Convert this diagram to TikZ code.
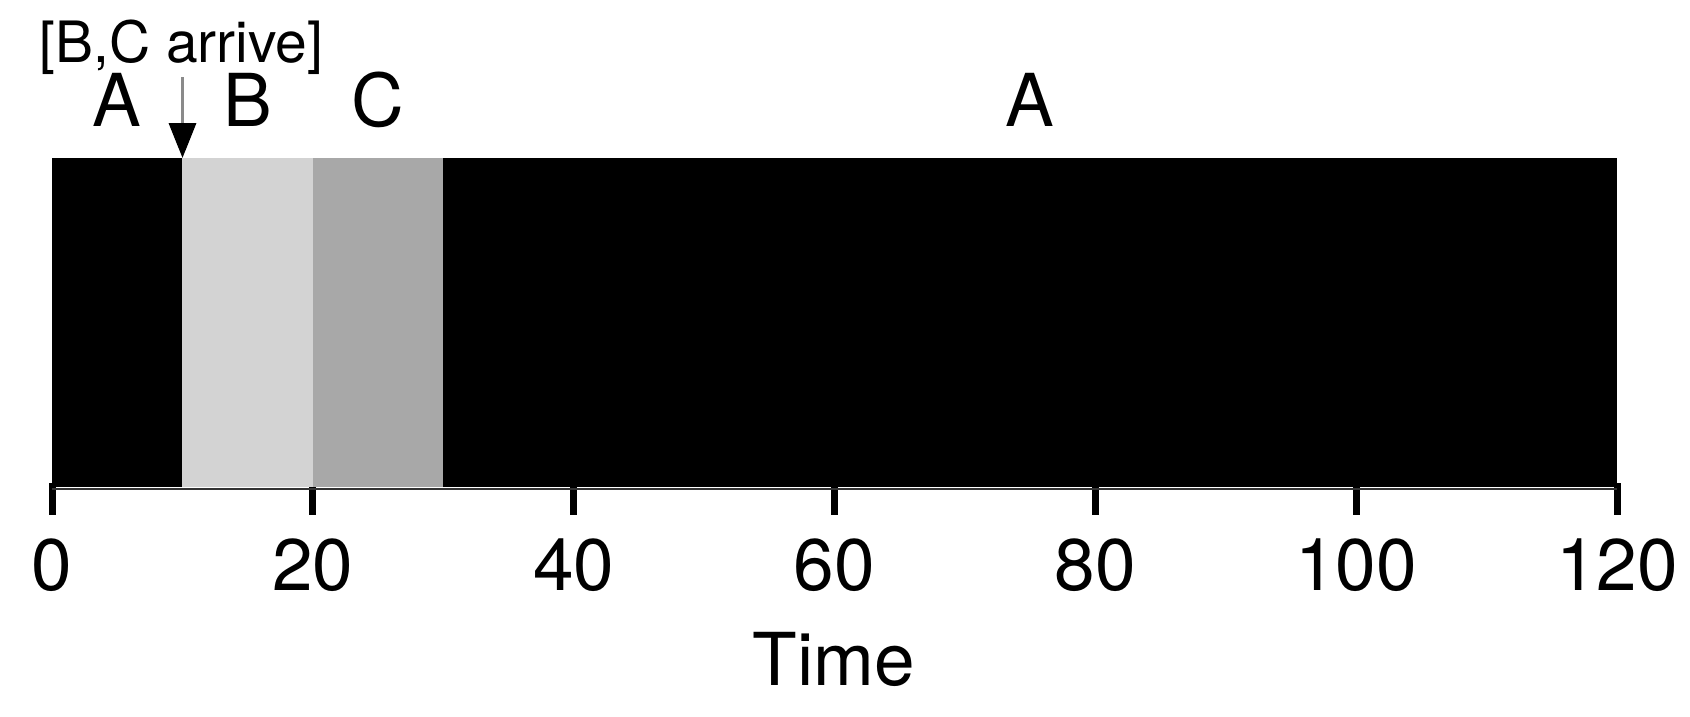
\documentclass[tikz,border=0pt]{standalone}
\usepackage{fontspec}
\setmainfont{TeX Gyre Heros}
\usetikzlibrary{arrows.meta}
\definecolor{segB}{HTML}{D3D3D3}
\definecolor{segC}{HTML}{A8A8A8}
\definecolor{arrgray}{HTML}{8A8A8A}
\definecolor{axisgray}{HTML}{333333}
\tikzset{
  biglabel/.style={inner sep=0pt, anchor=base, font=\fontsize{73}{80}\selectfont},
  smalllabel/.style={inner sep=0pt, anchor=base, font=\fontsize{57}{62}\selectfont},
  tickmark/.style={line width=7pt, black},
}
\begin{document}
\begin{tikzpicture}[x=1pt, y=-1pt]
\useasboundingbox (0,0) rectangle (1690,716);
% ticks (drawn first, bar covers upper part)
\foreach \t in {0,20,...,120}{
  \draw[tickmark] ({52+13.0417*\t},483) -- ({52+13.0417*\t},515);
  \node[biglabel] (tick\t) at ({52+13.0417*\t},590) {\t};
}
% axis line
\draw[axisgray, line width=2pt] (52,488.5) -- (1617,488.5);
% bar segments
\fill[black] (52,158) rectangle (182.4,487);
\fill[segB] (182.4,158) rectangle (312.8,487);
\fill[segC] (312.8,158) rectangle (443.2,487);
\fill[black] (443.2,158) rectangle (1617,487);
% labels
\node[biglabel] (lA1) at (117,126) {A};
\node[biglabel] (lB) at (247.6,126) {B};
\node[biglabel] (lC) at (378,126) {C};
\node[biglabel] (lA2) at (1030,126) {A};
\node[smalllabel] (arrive) at (181.5,62) {[B,C arrive]};
\node[biglabel] (time) at (834,685) {Time};
% arrival arrow
\coordinate (arrTop) at (182.5,77);
\coordinate (arrTip) at (182.5,158);
\draw[arrgray, line width=3.5pt, -{Triangle[length=35pt,width=27pt,color=black]}] (arrTop) -- (arrTip);
\end{tikzpicture}
\end{document}
